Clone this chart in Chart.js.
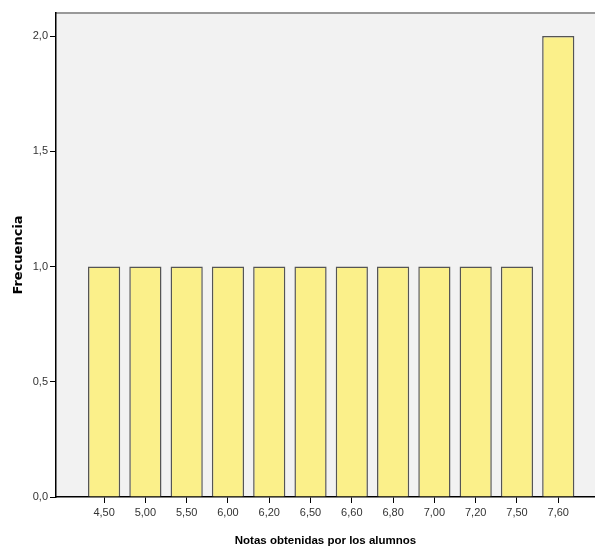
<!DOCTYPE html>
<html>
<head>
<meta charset="utf-8">
<script src="https://cdn.jsdelivr.net/npm/chart.js"></script>
<style>
  html, body { margin: 0; padding: 0; background: #fff; }
  #wrap { width: 595px; height: 548px; }
</style>
</head>
<body>
<div id="wrap"><canvas id="notasChart" width="595" height="548"></canvas></div>
<script>
// datos del grafico
var notas = ["4,50", "5,00", "5,50", "6,00", "6,20", "6,50", "6,60", "6,80", "7,00", "7,20", "7,50", "7,60"];
var frecuencia = [1, 1, 1, 1, 1, 1, 1, 1, 1, 1, 1, 2];
var yTicks = [0, 0.5, 1, 1.5, 2];

// fondo gris del area y linea superior
var fondoPlugin = {
  id: 'fondo',
  beforeDraw: function(chart) {
    var a = chart.chartArea, c = chart.ctx;
    c.save();
    c.fillStyle = '#f2f2f2';
    c.fillRect(a.left, a.top, a.right - a.left, a.bottom - a.top);
    c.strokeStyle = '#999';
    c.lineWidth = 2;
    c.beginPath();
    c.moveTo(a.left, a.top);
    c.lineTo(a.right, a.top);
    c.stroke();
    c.restore();
  }
};

window.onload = function(){
  var ctx = document.getElementById("notasChart").getContext('2d');
  var puntos = frecuencia.map(function(v, i){ return {x: i, y: v}; });

  new Chart(ctx, {
    type: 'bar',
    data: {
      datasets: [{
        label: 'Frecuencia',
        data: puntos,
        backgroundColor: '#fbf08a',
        borderColor: '#555',
        borderWidth: 1.5,
        categoryPercentage: 1,
        barPercentage: 0.78
      }]
    },
    options: {
      responsive: false,
      animation: false,
      layout: { padding: { top: 13, right: 0, left: 0, bottom: 0 } },
      plugins: { legend: { display: false }, tooltip: { enabled: false } },
      scales: {
        x: {
          type: 'linear',
          offset: false,
          min: -1.165,
          max: 11.89,
          afterBuildTicks: function(axis){
            axis.ticks = notas.map(function(n, i){ return {value: i}; });
          },
          afterFit: function(axis){ axis.height = 51; },
          ticks: {
            autoSkip: false,
            maxRotation: 0,
            padding: 3,
            color: '#333',
            font: { family: 'Liberation Sans', size: 11 },
            callback: function(v){ return notas[v]; }
          },
          grid: { offset: false, drawOnChartArea: false, drawTicks: true, tickLength: 6, color: '#000' },
          border: { display: true, color: '#000', width: 1.5 },
          title: {
            display: true,
            text: 'Notas obtenidas por los alumnos',
            color: '#000',
            font: { family: 'Liberation Sans', size: 11.5, weight: 'bold' },
            padding: { top: 8, bottom: 0 }
          }
        },
        y: {
          min: 0,
          max: 2.1,
          afterBuildTicks: function(axis){
            axis.ticks = yTicks.map(function(v){ return {value: v}; });
          },
          afterFit: function(axis){ axis.width = 56; },
          ticks: {
            padding: 2,
            color: '#333',
            font: { family: 'Liberation Sans', size: 11 },
            callback: function(v){ return v.toFixed(1).replace('.', ','); }
          },
          grid: { drawOnChartArea: false, drawTicks: true, tickLength: 6, color: '#000' },
          border: { display: true, color: '#000', width: 1.5 },
          title: {
            display: true,
            text: 'Frecuencia',
            color: '#000',
            font: { family: 'DejaVu Sans', size: 13, weight: 'bold' },
            padding: { top: 11, bottom: 0 }
          }
        }
      }
    },
    plugins: [fondoPlugin]
  });
};
</script>
</body>
</html>
